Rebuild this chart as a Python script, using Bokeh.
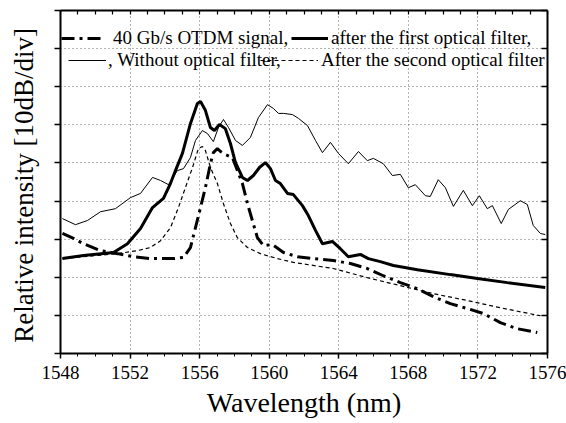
from bokeh.plotting import figure
from bokeh.models import (Range1d, LinearAxis, SingleIntervalTicker, FixedTicker,
                          Legend, LegendItem)
from bokeh.embed import file_html
from bokeh.resources import INLINE

# ---- data (wavelength in nm, relative intensity in dB, 10 dB/div) ----
wl_otdm = [1548.11, 1548.75, 1549.32, 1550.30, 1551.28, 1552.20, 1553.17, 1554.49,
           1555.07, 1555.47, 1555.76, 1556.05, 1556.33, 1556.62, 1556.79, 1557.02,
           1557.20, 1557.48, 1557.89, 1558.17, 1558.46, 1558.75, 1559.03, 1559.32,
           1559.67, 1560.18, 1560.82, 1561.62, 1562.54, 1563.69, 1564.67, 1565.64,
           1566.56, 1567.54, 1568.52, 1569.44, 1570.41, 1571.39, 1572.31, 1573.29,
           1574.26, 1575.41]
db_otdm = [-58.5, -59.8, -61.2, -63.0, -63.8, -64.6, -65.1, -65.1,
           -64.8, -62.2, -57.0, -51.7, -46.5, -40.2, -37.3, -36.2,
           -37.0, -37.8, -38.6, -42.0, -45.4, -50.7, -55.1, -59.6,
           -61.7, -61.4, -63.5, -64.6, -65.1, -65.6, -66.4, -67.7,
           -69.6, -71.4, -73.0, -75.1, -76.9, -78.2, -79.5, -81.9,
           -83.5, -84.5]

wl_first = [1548.11, 1549.32, 1551.05, 1551.85, 1552.60, 1553.29, 1553.92, 1554.32,
            1554.61, 1555.01, 1555.47, 1555.87, 1556.05, 1556.33, 1556.62, 1556.85,
            1557.14, 1557.48, 1557.77, 1558.06, 1558.46, 1558.75, 1559.09, 1559.44,
            1559.78, 1560.07, 1560.36, 1560.64, 1561.05, 1561.39, 1561.91, 1562.25,
            1562.66, 1563.06, 1563.63, 1564.09, 1564.55, 1565.24, 1565.70, 1566.39,
            1567.14, 1568.52, 1570.41, 1571.97, 1573.69, 1575.87]
db_first = [-65.1, -64.3, -63.5, -61.2, -57.2, -51.7, -49.3, -45.4,
            -42.0, -37.5, -29.7, -24.4, -23.9, -26.2, -30.7, -31.5,
            -29.9, -31.0, -34.9, -39.9, -43.8, -44.6, -43.3, -41.2,
            -39.9, -41.5, -44.6, -45.4, -48.0, -48.3, -51.2, -53.8,
            -57.7, -61.2, -60.6, -62.5, -64.6, -64.0, -65.1, -65.9,
            -66.9, -68.0, -69.3, -70.3, -71.4, -72.7]

wl_without = [1548.11, 1548.86, 1549.55, 1550.30, 1551.16, 1552.02, 1552.60, 1553.29,
              1553.75, 1554.21, 1554.72, 1555.07, 1555.47, 1555.76, 1556.16, 1556.45,
              1556.79, 1557.08, 1557.37, 1557.66, 1558.06, 1558.46, 1558.92, 1559.38,
              1559.90, 1560.24, 1560.53, 1560.82, 1561.33, 1561.68, 1562.20, 1562.66,
              1563.06, 1563.52, 1563.98, 1564.55, 1565.13, 1565.64, 1565.99, 1566.56,
              1567.08, 1567.54, 1568.00, 1568.40, 1568.98, 1569.26, 1569.72, 1570.13,
              1570.59, 1571.16, 1571.68, 1572.08, 1572.54, 1572.83, 1573.34, 1573.75,
              1574.44, 1574.84, 1575.18, 1575.59, 1575.87]
db_without = [-54.6, -56.2, -55.1, -52.8, -52.0, -49.1, -48.0, -43.8,
              -44.6, -45.7, -42.0, -41.5, -38.6, -34.1, -31.5, -32.3,
              -34.4, -30.7, -28.6, -30.7, -34.1, -35.4, -33.3, -28.1,
              -24.7, -25.7, -27.0, -27.0, -27.3, -28.3, -30.2, -34.1,
              -37.3, -34.6, -37.5, -40.2, -37.0, -39.4, -38.8, -40.2,
              -43.3, -43.0, -46.5, -45.7, -48.6, -48.8, -44.4, -46.5,
              -51.4, -47.2, -51.2, -48.6, -52.0, -51.2, -55.9, -52.2,
              -49.9, -50.9, -56.4, -58.5, -58.8]

wl_second = [1548.11, 1551.28, 1552.43, 1553.17, 1553.75, 1554.32, 1554.78, 1555.18,
             1555.59, 1555.93, 1556.16, 1556.33, 1556.62, 1557.02, 1557.37, 1557.77,
             1558.17, 1558.75, 1559.49, 1560.47, 1561.39, 1563.69, 1565.64, 1567.54,
             1569.44, 1571.39, 1573.29, 1575.59]
db_second = [-65.1, -63.8, -63.0, -62.2, -60.4, -57.0, -51.7, -46.5,
             -41.2, -36.2, -35.7, -36.7, -41.2, -45.4, -50.7, -55.9,
             -59.6, -62.2, -63.8, -65.1, -66.1, -67.7, -70.1, -72.2,
             -74.3, -76.1, -78.0, -80.1]

label_otdm = "40 Gb/s OTDM signal,"
label_first = "after the first optical filter,"
label_without = ", Without optical filter,"
label_second = "After the second optical filter"
x_title = "Wavelength (nm)"
y_title = "Relative intensity  [10dB/div]"

X_MIN, X_MAX, X_STEP = 1548, 1576, 4
Y_MIN, Y_MAX, Y_STEP = -90, 0, 10

SERIF = "Liberation Serif"

p = figure(width=566, height=423, x_range=Range1d(X_MIN, X_MAX),
           y_range=Range1d(Y_MIN, Y_MAX),
           output_backend="svg", toolbar_location=None,
           min_border_left=60, min_border_right=19, min_border_top=10,
           min_border_bottom=70)
p.outline_line_color = None
p.background_fill_color = "white"
p.border_fill_color = "white"

xt = SingleIntervalTicker(interval=X_STEP, num_minor_ticks=4)
yt = SingleIntervalTicker(interval=Y_STEP, num_minor_ticks=0)
y_marks = list(range(Y_MIN, Y_MAX + 1, Y_STEP))
x_marks = list(range(X_MIN, X_MAX + 1, 1))

# bottom axis with labels
xa = p.xaxis[0]
xa.ticker = xt
xa.axis_line_width = 2
xa.major_tick_out = 5
xa.major_tick_in = 0
xa.minor_tick_out = 3
xa.minor_tick_in = 0
xa.major_tick_line_width = 1.5
xa.major_label_text_font = SERIF
xa.major_label_text_font_size = "19px"
xa.major_label_text_color = "black"
xa.major_label_standoff = 7
xa.axis_label = x_title
xa.axis_label_text_font = SERIF
xa.axis_label_text_font_size = "28px"
xa.axis_label_text_font_style = "normal"
xa.axis_label_text_color = "black"
xa.axis_label_standoff = 5

# left axis: ticks only (as minor ticks so no numbers are drawn) + title
ya = p.yaxis[0]
ya.ticker = FixedTicker(ticks=[], minor_ticks=y_marks)
ya.axis_line_width = 2
ya.minor_tick_out = 6
ya.minor_tick_in = 0
ya.minor_tick_line_width = 1.5
ya.major_label_standoff = 0
ya.axis_label = y_title
ya.axis_label_text_font = SERIF
ya.axis_label_text_font_size = "27px"
ya.axis_label_text_font_style = "normal"
ya.axis_label_text_color = "black"
ya.axis_label_standoff = 16

top = LinearAxis(ticker=FixedTicker(ticks=[], minor_ticks=x_marks),
                 axis_line_width=2, minor_tick_in=4, minor_tick_out=0,
                 minor_tick_line_width=1.2, major_label_standoff=0)
p.add_layout(top, "above")
right = LinearAxis(ticker=FixedTicker(ticks=[], minor_ticks=y_marks),
                   axis_line_width=2, minor_tick_in=6, minor_tick_out=0,
                   minor_tick_line_width=1.5, major_label_standoff=0)
p.add_layout(right, "right")

p.xgrid.ticker = xt
p.ygrid.ticker = yt
for g in (p.xgrid, p.ygrid):
    g.grid_line_color = "#666666"
    g.grid_line_dash = "1 3"
    g.grid_line_width = 1

r_otdm = p.line(wl_otdm, db_otdm, line_width=3, line_dash="13 5 3 5", line_color="black")
r_first = p.line(wl_first, db_first, line_width=3, line_color="black")
r_without = p.line(wl_without, db_without, line_width=1, line_color="black")
r_second = p.line(wl_second, db_second, line_width=1.2, line_dash="4 3", line_color="black")


def add_legend(label, r, x, y, gw, so):
    lg = Legend(items=[LegendItem(label=label, renderers=[r])], location=(x, y),
                orientation="horizontal", glyph_width=gw, glyph_height=22,
                label_height=22, label_standoff=so, padding=0, margin=0, spacing=0,
                border_line_color=None, background_fill_alpha=0,
                label_text_font=SERIF, label_text_font_size="19px",
                label_text_color="black")
    p.add_layout(lg)


add_legend(label_otdm, r_otdm, 1, 304, 42, 10)
add_legend(label_first, r_first, 231, 304, 37, 3)
add_legend(label_without, r_without, 8, 282, 38, 2)
add_legend(label_second, r_second, 200, 282, 58, 3)

open("out.html", "w").write(file_html(p, INLINE))
